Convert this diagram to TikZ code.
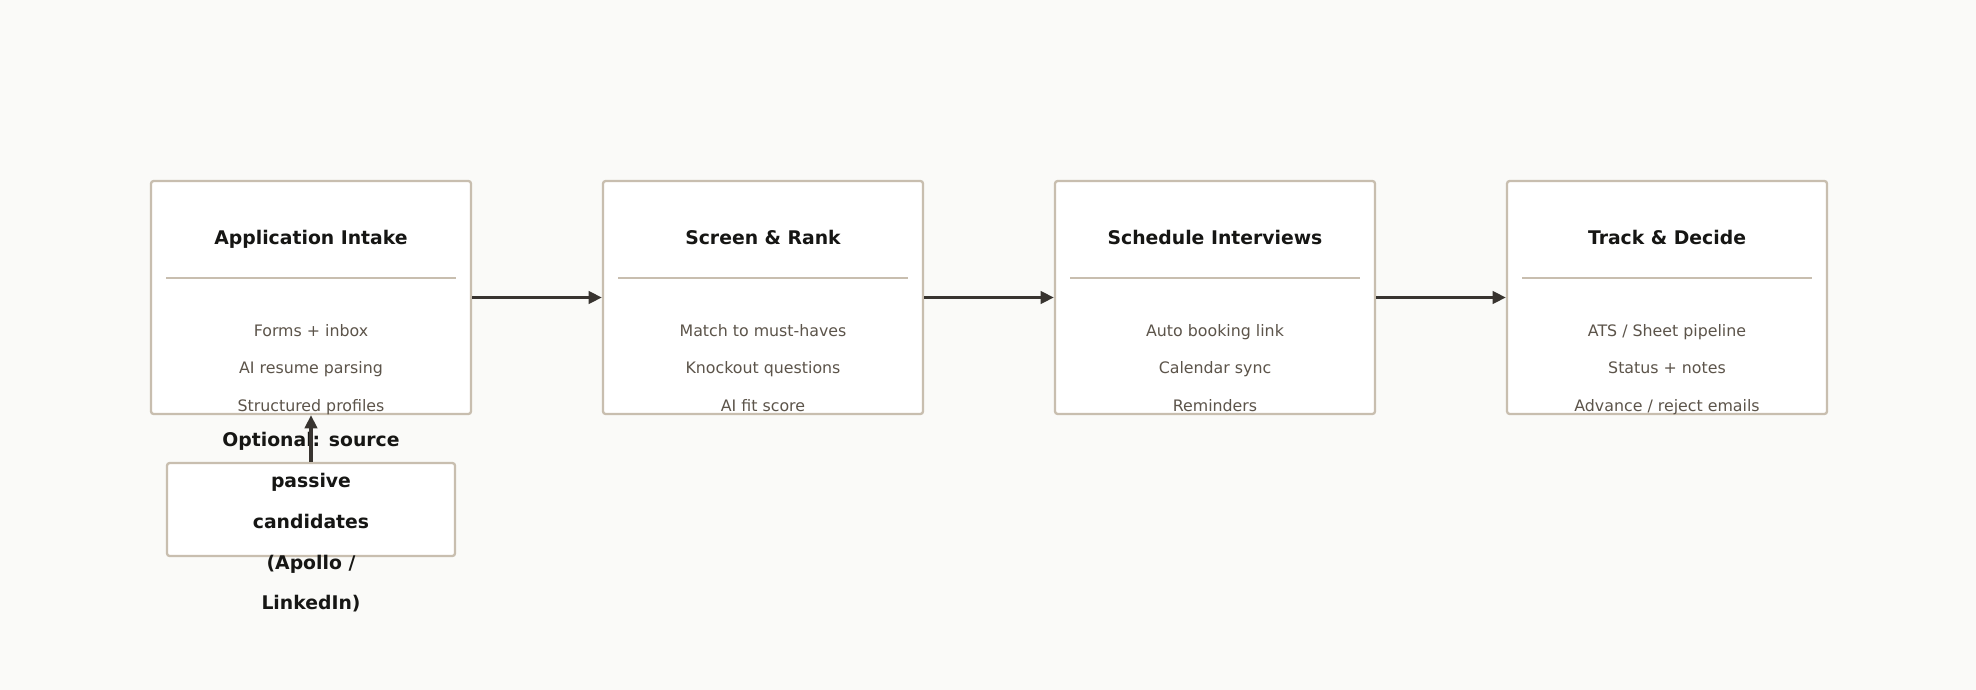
\documentclass[tikz,border=0pt]{standalone}
\usepackage{fontspec}
\setmainfont{DejaVu Sans}
\usepackage{xcolor}
\usetikzlibrary{arrows.meta, positioning}
\definecolor{pagebg}{RGB}{250,250,248}
\definecolor{boxedge}{RGB}{200,190,175}
\definecolor{titleink}{RGB}{22,22,20}
\definecolor{bodyink}{RGB}{92,84,74}
\definecolor{flowink}{RGB}{56,52,48}

\begin{document}
\begin{tikzpicture}[
  >={Triangle[length=7.5pt,width=7pt]},
  every node/.style={align=center},
  stagebox/.style={draw=boxedge, fill=white, rounded corners=1.5pt, line width=1.3pt,
                   minimum width=6.4cm, minimum height=4.66cm, inner sep=0pt},
  stagetitle/.style={font=\fontsize{10.7}{12}\selectfont\bfseries, text=titleink,
                     text height=8.13pt, text depth=2.5pt},
  stagebody/.style={font=\fontsize{9}{21.3}\selectfont, text=bodyink,
                    execute at begin node=\strut, execute at end node=\strut},
  divider/.style={draw=boxedge, line width=0.9pt},
  flow/.style={->, draw=flowink, line width=1.8pt},
  optbox/.style={draw=boxedge, fill=white, rounded corners=1.5pt, line width=1.3pt,
                 minimum width=5.76cm, minimum height=1.86cm, inner sep=0pt},
  opttext/.style={font=\fontsize{10.7}{23.2}\selectfont\bfseries, text=titleink},
]

\path[use as bounding box, fill=pagebg] (0,0) rectangle (39.52,-13.8);

%% Stage x-positions (9.04cm spacing)
\def\xA{6.22}    % Application Intake
\def\xB{15.26}   % Screen & Rank
\def\xC{24.30}   % Schedule Interviews
\def\xD{33.34}   % Track & Decide
\def\yM{-5.95}   % box centre line

%% ---- Stage boxes ----
\node[stagebox] (intake)   at (\xA,\yM) {};
\node[stagebox] (screen)   at (\xB,\yM) {};
\node[stagebox] (schedule) at (\xC,\yM) {};
\node[stagebox] (track)    at (\xD,\yM) {};

%% ---- Titles ----
\node[stagetitle] (intaketitle)   at (\xA,-4.785) {Application Intake};
\node[stagetitle] (screentitle)   at (\xB,-4.785) {Screen \& Rank};
\node[stagetitle] (scheduletitle) at (\xC,-4.785) {Schedule Interviews};
\node[stagetitle] (tracktitle)    at (\xD,-4.785) {Track \& Decide};

%% Dividers
\foreach \x in {\xA,\xB,\xC,\xD}{
  \draw[divider] (\x-2.9,-5.56) -- (\x+2.9,-5.56);
}

%% ---- Bodies ----
\node[stagebody] (intakebody)   at (\xA,-7.465) {Forms + inbox\\AI resume parsing\\Structured profiles};
\node[stagebody] (screenbody)   at (\xB,-7.465) {Match to must-haves\\Knockout questions\\AI fit score};
\node[stagebody] (schedulebody) at (\xC,-7.465) {Auto booking link\\Calendar sync\\Reminders};
\node[stagebody] (trackbody)    at (\xD,-7.465) {ATS / Sheet pipeline\\Status + notes\\Advance / reject emails};

%% ---- Flow ----
\draw[flow] (intake.east)   -- (screen.west);
\draw[flow] (screen.east)   -- (schedule.west);
\draw[flow] (schedule.east) -- (track.west);

%% ---- Optional sourcing ----
\node[optbox] (sourcing) at (\xA,-10.19) {};
\node[opttext] (sourcingtext) at (\xA,-10.45)
  {Optional: source\\passive\\candidates\\(Apollo /\\LinkedIn)};
\draw[flow] (sourcing.north) -- (intake.south);

\end{tikzpicture}
\end{document}
